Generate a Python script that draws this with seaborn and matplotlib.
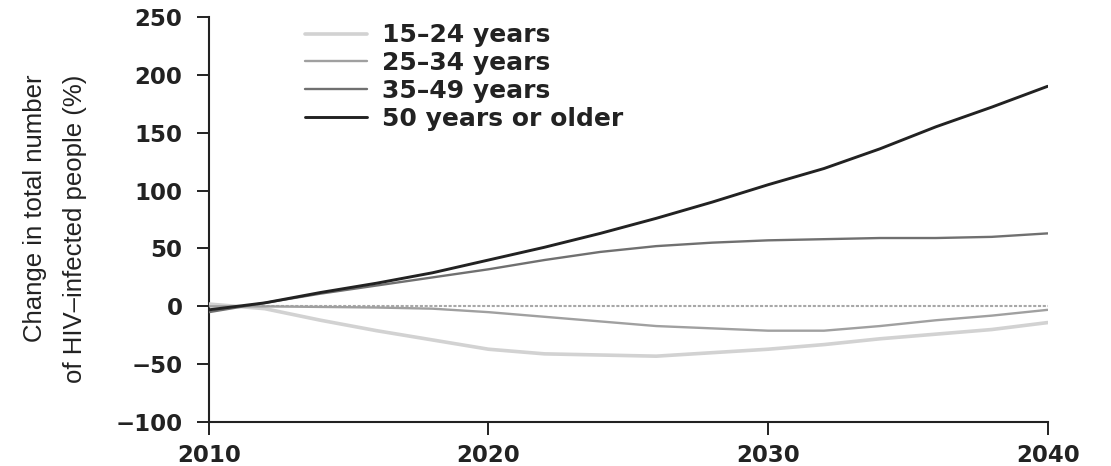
import matplotlib
matplotlib.use("Agg")
import matplotlib.pyplot as plt
from matplotlib.lines import Line2D
import seaborn as sns
import pandas as pd

years = [2010, 2012, 2014, 2016, 2018, 2020, 2022, 2024, 2026, 2028, 2030, 2032, 2034, 2036, 2038, 2040]
age_15_24 = [2, -2, -12, -21, -29, -37, -41, -42, -43, -40, -37, -33, -28, -24, -20, -14]
age_25_34 = [0, 0, -0.5, -1, -2, -5, -9, -13, -17, -19, -21, -21, -17, -12, -8, -3]
age_35_49 = [-5, 3, 11, 18, 25, 32, 40, 47, 52, 55, 57, 58, 59, 59, 60, 63]
age_50_plus = [-3, 3, 12, 20, 29, 40, 51, 63, 76, 90, 105, 119, 136, 155, 172, 190]

labels = ["15\u201324 years", "25\u201334 years", "35\u201349 years", "50 years or older"]
series = [age_15_24, age_25_34, age_35_49, age_50_plus]
colors = ["#d2d2d2", "#a0a0a0", "#707070", "#222222"]
widths = [2.6, 1.7, 1.7, 2.1]

y_ticks = [-100, -50, 0, 50, 100, 150, 200, 250]
x_ticks = [2010, 2020, 2030, 2040]

rows = []
for lab, vals in zip(labels, series):
    for yr, v in zip(years, vals):
        rows.append({"Year": yr, "Value": v, "Group": lab})
df = pd.DataFrame(rows)

sns.set_theme(style="ticks")
plt.rcParams["font.family"] = ["DejaVu Sans"]

fig = plt.figure(figsize=(11.11, 4.66), dpi=100)
ax = fig.add_axes([0.188, 0.094, 0.755, 0.870])

ax.axhline(0, color="#a8a8a8", lw=1.5, ls=(0, (1.5, 0.8)), zorder=1)

sns.lineplot(data=df, x="Year", y="Value", hue="Group", hue_order=labels,
             palette=dict(zip(labels, colors)), ax=ax, legend=False, zorder=3)
for line, w in zip(ax.get_lines()[1:], widths):
    line.set_linewidth(w)

handles = [Line2D([0], [0], color=c, lw=w) for c, w in zip(colors, widths)]
leg = ax.legend(handles, labels, loc="upper left", bbox_to_anchor=(0.115, 0.984),
                frameon=False, handlelength=2.45, handletextpad=0.6,
                labelspacing=0.15, borderaxespad=0, borderpad=0,
                prop={"family": "DejaVu Sans", "weight": "bold", "size": 18})
for t in leg.get_texts():
    t.set_color("#222222")

ax.set_xlim(2010, 2040)
ax.set_ylim(-100, 250)
ax.set_xticks(x_ticks)
ax.set_yticks(y_ticks)
ax.set_yticklabels([str(t).replace("-", "\u2212") for t in y_ticks])
ax.tick_params(axis="both", length=9, width=1.4, colors="#222222")
ax.tick_params(axis="y", pad=10)
ax.tick_params(axis="x", pad=7)
for lab in ax.get_xticklabels() + ax.get_yticklabels():
    lab.set_fontfamily("DejaVu Sans")
    lab.set_fontweight("bold")
    lab.set_fontsize(16.5)
ax.set_xlabel("")
ax.set_ylabel("Change in total number\nof HIV\u2013infected people (%)",
              fontsize=18.5, family=["Liberation Sans", "DejaVu Sans"],
              color="#222222", linespacing=1.8, ha="center", va="center",
              multialignment="right")
ax.yaxis.set_label_coords(-0.1835, 0.4765)
for s in ["top", "right"]:
    ax.spines[s].set_visible(False)
for s in ["left", "bottom"]:
    ax.spines[s].set_linewidth(1.5)
    ax.spines[s].set_color("#222222")

fig.savefig("out.png", dpi=100)
